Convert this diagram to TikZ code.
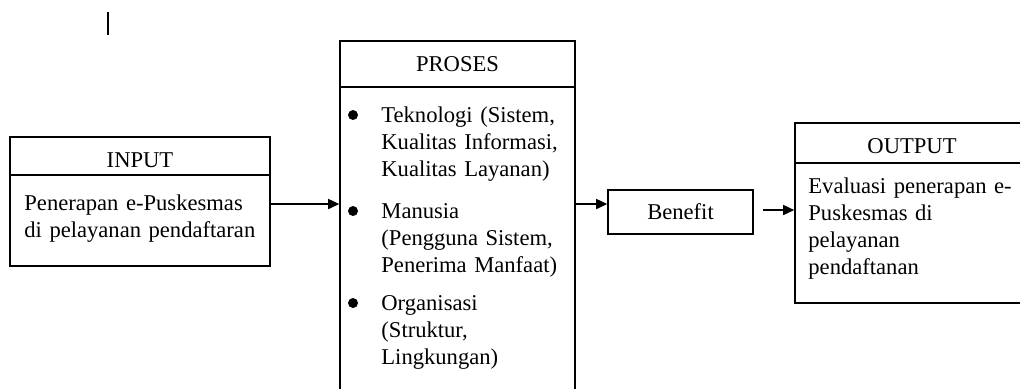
\documentclass[tikz,border=0pt]{standalone}
\usepackage{fontspec}
\setmainfont{Liberation Serif}
\usetikzlibrary{arrows.meta}
\tikzset{
  box/.style={draw, line width=0.8pt, inner sep=0pt},
  title/.style={anchor=base, inner sep=0pt},
  body/.style={anchor=base west, inner sep=0pt, align=left, text width=#1},
  dot/.style={circle, fill, inner sep=0pt, minimum size=5pt},
  arrow/.style={line width=0.8pt, -{Triangle[length=5.5pt,width=5pt]}},
}
\begin{document}
\begin{tikzpicture}[x=0.5pt, y=-0.5pt, font=\fontsize{11.3}{13.5}\selectfont]
    \clip (0,0) rectangle (1020,388);
    % cursor mark
    \draw[line width=0.6pt] (108,12) -- (108,35);
    % boxes
    \node[box, minimum width=130pt, minimum height=64.5pt] (input) at (140,201.5) {};
    \node[box, minimum width=117.5pt, minimum height=189.5pt] (proses) at (457.5,230.5) {};
    \node[box, minimum width=72.5pt, minimum height=22pt] (benefit) at (680.5,212) {Benefit};
    \node[box, minimum width=117pt, minimum height=90pt] (output) at (912,213) {};
    \draw[line width=0.8pt]
        (10,175) -- (270,175)
        (340,87) -- (575,87)
        (795,163) -- (1029,163);
    % titles
    \node[title] (inputtitle) at (140,167) {INPUT};
    \node[title] (prosestitle) at (457.5,71) {PROSES};
    \node[title] (outputtitle) at (912,153) {OUTPUT};
    % texts
    \node[body=120pt] (inputtext) at (24,210)
        {Penerapan e-Puskesmas\\di pelayanan pendaftaran};
    \node[dot] (dot1) at (353,115) {};
    \node[dot] (dot2) at (353,211) {};
    \node[dot] (dot3) at (353,303) {};
    \node[body=96pt] (item1) at (381,122)
        {Teknologi (Sistem,\\Kualitas Informasi,\\Kualitas Layanan)};
    \node[body=96pt] (item2) at (381,218)
        {Manusia\\(Pengguna Sistem,\\Penerima Manfaat)};
    \node[body=96pt] (item3) at (381,310)
        {Organisasi\\(Struktur,\\Lingkungan)};
    \node[body=110pt] (outputtext) at (808,193)
        {Evaluasi penerapan e-\\Puskesmas di\\pelayanan\\pendaftanan};
    % arrows
    \coordinate (lvl) at (0,204);
    \draw[arrow] (input.east |- lvl) -- (proses.west |- lvl);
    \draw[arrow] (proses.east |- lvl) -- (benefit.west |- lvl);
    \draw[arrow] ([shift={(9,-2)}]benefit.east) coordinate (b3) -- (b3 -| output.west);
\end{tikzpicture}
\end{document}
